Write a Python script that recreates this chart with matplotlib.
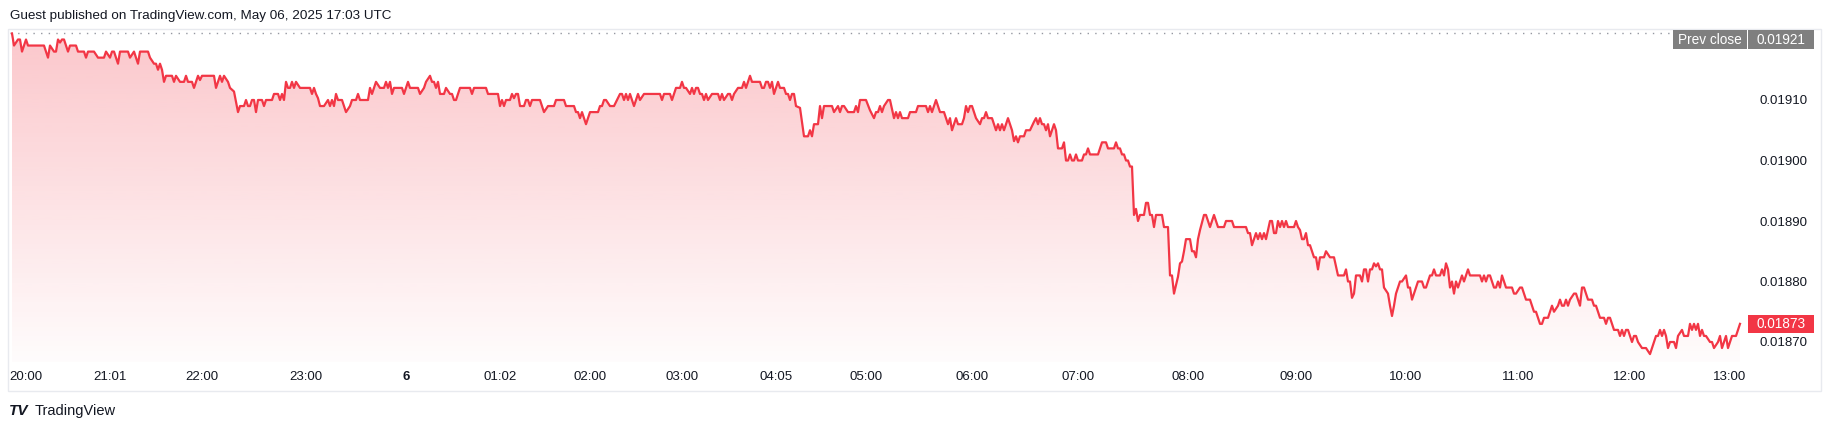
import matplotlib
matplotlib.use("Agg")
import matplotlib.pyplot as plt
import numpy as np
from matplotlib.patches import Rectangle, Polygon
from matplotlib.colors import to_rgb
from matplotlib.transforms import blended_transform_factory

# ---------------- data (bar index along the time axis, price in 1e-5 units) ----------------
bar_index = [
    1, 2, 4, 5, 6, 8, 9, 17, 19, 20, 22, 23, 24, 25, 26, 27, 29, 30, 33, 34, 37, 38, 39, 42, 44, 47, 48, 50, 51, 52,
    54, 55, 59, 60, 62, 64, 65, 69, 70, 72, 73, 74, 75, 76, 77, 78, 81, 82, 83, 85, 87, 88, 89, 91, 92, 94, 95, 96,
    102, 103, 105, 106, 107, 109, 110, 112, 114, 115, 117, 118, 119, 120, 121, 122, 123, 124, 126, 127, 128, 131,
    132, 134, 135, 136, 137, 138, 139, 140, 141, 142, 143, 145, 150, 151, 152, 153, 154, 155, 157, 159, 160, 161,
    162, 163, 164, 166, 167, 168, 170, 171, 173, 174,
    175, 179, 180, 181, 182, 183, 185, 187, 188, 189, 190, 191, 192, 196, 197, 199, 200, 204, 205, 207, 208, 210,
    211, 212, 213, 214, 215, 217, 218, 220, 221, 222, 223, 225, 230, 231, 232, 238, 239, 244, 245, 246, 247, 248,
    250, 251, 252, 253, 254, 255, 257, 258, 259, 260, 261, 265, 266, 267, 269, 272, 273, 277, 278, 282, 283, 284,
    285, 286, 287, 288, 289, 290, 294, 295, 296, 297, 298, 300, 302, 305, 306, 307, 308, 309, 310, 312, 314, 315,
    317, 325, 326, 327, 330, 331, 332, 333, 335, 336, 337, 338, 340, 341, 342, 343, 344, 345, 346,
    347, 348, 349, 351, 354, 355, 356, 357, 359, 360, 361, 362, 364, 366, 367, 368, 370, 371, 375, 376, 377, 378,
    379, 380, 381, 382, 384, 385, 387, 388, 389, 390, 391, 392, 393, 395, 397, 399, 400, 401, 402, 403, 404, 405,
    406, 407, 411, 412, 414, 415, 416, 417, 419, 422, 423, 424, 425, 428, 430, 432, 433, 434, 435, 436, 437, 439,
    440, 442, 443, 444, 445, 446, 449, 450, 453, 454, 458, 459, 460, 461, 463, 465, 467, 469, 470, 471, 472, 473,
    474, 476, 477, 478, 479, 480, 481, 482, 483, 485, 486, 487, 488, 489, 491, 493, 494, 495, 496, 497, 498, 499,
    501, 502, 503, 504, 505, 507, 508, 510, 512, 513, 514, 515, 516, 517, 518, 519, 520, 522, 523, 524,
    526, 527, 528, 529, 530, 531, 532, 533, 534, 536, 537, 538, 539, 540, 544, 546, 548, 549, 552, 553, 554, 555,
    556, 557, 558, 559, 560, 561, 562, 563, 564, 565, 567, 568, 569, 570, 571, 572, 573, 576, 577, 579, 580, 581,
    582, 584, 585, 586, 587, 588, 590, 591, 592, 593, 594, 595, 597, 598, 600, 602, 604, 607, 608, 611, 612, 618,
    619, 620, 621, 622, 623, 624, 625, 626, 627, 628, 630, 631, 632, 633, 634, 635, 636, 637, 638, 639, 642, 643,
    644, 645, 646, 647, 648, 649, 650, 652, 653, 654, 655, 657, 658, 660, 662, 663, 664, 667, 668, 669, 670, 671,
    672, 673, 675, 676, 677, 678, 679, 680, 681, 682, 683, 684, 685, 686, 687, 689, 690, 691, 692, 693, 695, 696,
    698, 699,
    700, 701, 702, 704, 706, 707, 708, 710, 711, 712, 713, 715, 716, 717, 718, 719, 720, 721, 722, 723, 724, 725,
    726, 727, 728, 729, 730, 735, 736, 737, 738, 739, 740, 742, 743, 744, 745, 746, 747, 748, 751, 752, 753, 755,
    756, 758, 760, 761, 762, 763, 765, 766, 767, 769, 770, 771, 772, 774, 775, 776, 777, 778, 779, 780, 782, 783,
    784, 785, 786, 787, 789, 791, 792, 793, 795, 797, 798, 799, 800, 802, 804, 805, 806, 807, 808, 809, 810, 811,
    812, 813, 814, 816, 818, 820, 821, 823, 824, 825, 826, 827, 828, 829, 830, 832, 833, 834, 836, 837, 839, 840,
    841, 842, 843, 844, 845, 846, 847, 848, 850, 851, 852, 854, 855, 856, 857, 858, 859, 860, 861, 863, 864, 865,
]

price_e5 = [
    1921, 1919, 1920, 1920, 1918, 1920, 1919, 1919, 1917, 1919, 1918, 1918, 1920, 1919.5, 1920, 1920, 1918, 1919,
    1919, 1918, 1918, 1917, 1918, 1918, 1917, 1917, 1918, 1917, 1918, 1918,
    1916, 1918, 1918, 1917, 1918, 1916, 1918, 1918, 1917, 1916, 1916, 1915, 1916, 1915, 1913, 1914, 1914, 1913,
    1914, 1913, 1913, 1914, 1913, 1913, 1912, 1914, 1913.3, 1914,
    1914, 1912, 1914, 1913, 1914, 1913, 1912, 1911.4, 1908, 1909, 1909, 1910, 1909, 1909, 1910, 1910, 1908, 1910,
    1910, 1909, 1910, 1910,
    1911, 1911, 1910, 1911, 1910, 1913, 1912, 1912, 1913, 1912, 1913, 1912, 1912, 1911, 1912, 1911, 1910.3, 1909,
    1909, 1910, 1909, 1910,
    1909, 1911, 1910, 1910, 1909, 1908, 1909, 1910, 1910, 1911,
    1910, 1910, 1912, 1911, 1912, 1913, 1912, 1912, 1913, 1912, 1913, 1911, 1912, 1912, 1911, 1913, 1912, 1912,
    1911, 1912, 1913, 1914,
    1913, 1913, 1912, 1913, 1911, 1911, 1912, 1911, 1911, 1910, 1910, 1912, 1912, 1911, 1912, 1912, 1911, 1911,
    1909, 1910, 1909, 1910,
    1910, 1911, 1910.3, 1911, 1911, 1909, 1909, 1910, 1910, 1909, 1910, 1910, 1909, 1908, 1909, 1909, 1910, 1910,
    1909, 1909, 1908, 1908,
    1907, 1908, 1907, 1906, 1907, 1908, 1908, 1909, 1909, 1910, 1910, 1909, 1909, 1911, 1911, 1910, 1911, 1910,
    1911, 1909, 1911, 1910,
    1911, 1911, 1910, 1911, 1911, 1910, 1911, 1912, 1912, 1913, 1912, 1912, 1911, 1912, 1911, 1912, 1912, 1911,
    1911,
    1910, 1911, 1910, 1911, 1911, 1910, 1911, 1910, 1911, 1911, 1910, 1911, 1912, 1912, 1913, 1912, 1914, 1913,
    1913, 1912, 1912, 1913,
    1913, 1912, 1913, 1911, 1913, 1912, 1912, 1911, 1911, 1910, 1911, 1911, 1909, 1908.7, 1904, 1904, 1905, 1904,
    1906, 1906, 1906, 1909,
    1907, 1909, 1909, 1908, 1909, 1908, 1909, 1909, 1908, 1908, 1909, 1908, 1910, 1910, 1908.3, 1907, 1908, 1908,
    1909, 1908, 1909, 1910,
    1910, 1907, 1908, 1907, 1908, 1907, 1907, 1908, 1908, 1909, 1909, 1908, 1909, 1908, 1910, 1908, 1908, 1906,
    1907, 1905, 1906, 1907,
    1906, 1906, 1907, 1909, 1908, 1909, 1909, 1908, 1907, 1906, 1907, 1907, 1908, 1907, 1907, 1905, 1906, 1905,
    1906, 1905, 1906, 1907,
    1905, 1903.2, 1904, 1903, 1904, 1904, 1905, 1905, 1906.4, 1907, 1906, 1907, 1906, 1906, 1905, 1906, 1904, 1906,
    1905, 1902,
    1902, 1903, 1900, 1900, 1901, 1900, 1900, 1901, 1900, 1900, 1901, 1901, 1902, 1901, 1901, 1903, 1903, 1902,
    1902, 1903, 1902, 1902,
    1901, 1901, 1900, 1900, 1899, 1899, 1891, 1892, 1890, 1891, 1891, 1893, 1893, 1891, 1891, 1889, 1891, 1891,
    1889, 1889, 1881, 1881,
    1878, 1880.8, 1883, 1883.3, 1885, 1887, 1887, 1885, 1885, 1884, 1887, 1888.5, 1891, 1891, 1889, 1891, 1889,
    1889, 1890, 1890, 1889, 1889,
    1888, 1888, 1886, 1887, 1888, 1887, 1888, 1887, 1888, 1887, 1890, 1890, 1888, 1888, 1890, 1889, 1890, 1889,
    1890, 1889, 1889, 1890,
    1889, 1888.5, 1887, 1887, 1888, 1886, 1886, 1884, 1884, 1882, 1884, 1884, 1885, 1884, 1884, 1882.5, 1881, 1881,
    1882, 1880, 1880, 1877.3,
    1878, 1881, 1881, 1880, 1882, 1882, 1880, 1882, 1882, 1883, 1882.5, 1883, 1882, 1882, 1879, 1878, 1876, 1874.3,
    1876, 1878, 1880, 1880,
    1881, 1879,
    1879, 1877, 1878, 1880, 1880, 1879, 1879, 1881, 1881, 1882, 1881, 1881, 1882, 1881, 1883, 1882, 1879, 1880,
    1878, 1880, 1879, 1880,
    1881, 1880, 1881, 1882, 1881, 1881, 1880, 1881, 1880, 1881, 1881, 1879, 1879, 1880, 1879, 1881, 1880, 1879,
    1879, 1878, 1878, 1879,
    1879, 1877, 1877, 1876, 1875, 1875, 1873, 1873, 1874, 1874, 1875, 1876, 1875, 1876, 1877, 1876, 1876, 1877,
    1876, 1877, 1878, 1878,
    1877, 1876, 1879, 1879, 1877, 1877, 1876, 1876, 1874, 1874, 1873, 1874, 1874, 1872, 1872, 1871, 1872, 1871,
    1872, 1872, 1871, 1870,
    1871, 1871, 1870, 1869, 1869, 1868, 1869, 1871, 1871, 1872, 1871, 1872, 1871, 1869, 1870, 1870, 1869, 1871,
    1872, 1871, 1871, 1873,
    1872, 1873, 1872, 1873, 1871, 1872, 1871, 1871, 1870, 1870, 1869, 1870, 1871, 1869, 1870, 1871, 1869, 1870,
    1871, 1871, 1872, 1873,
]

tick_bars = [8, 50, 96, 148, 198, 245, 290, 336, 383, 428, 481, 534, 589, 643, 698, 754, 810, 860]
tick_labels = ["20:00", "21:01", "22:00", "23:00", "6", "01:02", "02:00", "03:00", "04:05", "05:00",
               "06:00", "07:00", "08:00", "09:00", "10:00", "11:00", "12:00", "13:00"]
price_ticks = [0.01870, 0.01880, 0.01890, 0.01900, 0.01910]
prev_close = 0.01921
last_price = 0.01873

# ---------------- style ----------------
RED = "#f23645"
TXT = "#131722"
GRAY_BOX = "#7f7f7f"
BORDER = "#e8eaef"
FONT = "Liberation Sans"
plt.rcParams["font.family"] = [FONT, "DejaVu Sans"]

W, H = 1831, 430
fig = plt.figure(figsize=(W / 100, H / 100), dpi=100)
fig.patch.set_facecolor("white")

def fx(px):
    return px / W

def fy(py):
    return 1 - py / H

PANE_L, PANE_R, PANE_T, PANE_B = 10, 1748, 29, 362
ax = fig.add_axes([fx(PANE_L), fy(PANE_B), (PANE_R - PANE_L) / W, (PANE_B - PANE_T) / H])
ax.set_facecolor("none")

bars = np.array(bar_index, dtype=float)
prices = np.array(price_e5) * 1e-5

# y-scale: 1e-5 price = 6.05 px
px_per_unit = 6.05 / 1e-5
y_top = 0.01910 + (100 - PANE_T) / px_per_unit
y_bot = 0.01910 - (PANE_B - 100) / px_per_unit
ax.set_ylim(y_bot, y_top)
ax.set_xlim(0, 869)

# gradient area fill
grad = np.zeros((256, 1, 4))
grad[..., :3] = to_rgb(RED)
grad[:, 0, 3] = np.linspace(0.28, 0.015, 256)
top_val = prices.max()
im = ax.imshow(grad, extent=[bars[0], bars[-1], y_bot, top_val], aspect="auto",
               origin="upper", zorder=1, interpolation="bilinear")
verts = np.vstack([np.column_stack([bars, prices]),
                   [[bars[-1], y_bot], [bars[0], y_bot]]])
clip = Polygon(verts, closed=True, facecolor="none", edgecolor="none")
ax.add_patch(clip)
im.set_clip_path(clip)

ax.plot(bars, prices, color=RED, lw=1.6, zorder=3, solid_joinstyle="round")

# prev close dotted line
ax.plot([0, 831], [prev_close, prev_close], color="#9598a1", lw=1.0,
        linestyle=(0, (1, 4.5)), zorder=2)

# axes cosmetics
for s in ax.spines.values():
    s.set_visible(False)
ax.set_xticks([])
ax.yaxis.tick_right()
ax.set_yticks(price_ticks)
ax.set_yticklabels([f"{v:.5f}" for v in price_ticks], fontsize=9.5, color=TXT)
ax.tick_params(axis="y", length=0, pad=8)

# time labels
trans = blended_transform_factory(ax.transData, ax.transAxes)
for b, lab in zip(tick_bars, tick_labels):
    ax.text(b, -(377 - PANE_B) / (PANE_B - PANE_T), lab, transform=trans, ha="center", va="center",
            fontsize=9.5, color=TXT, fontweight="bold" if lab == "6" else "normal", clip_on=False)

# border of chart
fig.add_artist(Rectangle((fx(8), fy(391)), (1821 - 8) / W, (391 - 29) / H, transform=fig.transFigure,
                         fill=False, edgecolor=BORDER, lw=1.0))

# labels on the price scale
def box(x0, x1, y0, y1, color, text, fs=9.8, weight="normal"):
    fig.add_artist(Rectangle((fx(x0), fy(y1)), (x1 - x0) / W, (y1 - y0) / H, transform=fig.transFigure,
                             facecolor=color, edgecolor="none", zorder=5))
    fig.text(fx((x0 + x1) / 2), fy((y0 + y1) / 2), text, ha="center", va="center",
             color="white", fontsize=fs, zorder=6, fontweight=weight)

box(1673, 1747, 30, 49, GRAY_BOX, "Prev close")
box(1748, 1814, 30, 49, GRAY_BOX, f"{prev_close:.5f}")
y_last = PANE_T + (y_top - last_price) * px_per_unit
box(1748, 1814, y_last - 9, y_last + 9, RED, f"{last_price:.5f}")

# header and footer
fig.text(fx(10), fy(16), "Guest published on TradingView.com, May 06, 2025 17:03 UTC",
         ha="left", va="center", fontsize=9.7, color=TXT)
fig.text(fx(9), fy(411), "TV", ha="left", va="center", fontsize=11, color=TXT, fontweight="heavy",
         style="italic")
fig.text(fx(35), fy(411), "TradingView", ha="left", va="center", fontsize=10.5, color=TXT)

fig.savefig("out.png", dpi=100, facecolor="white")
